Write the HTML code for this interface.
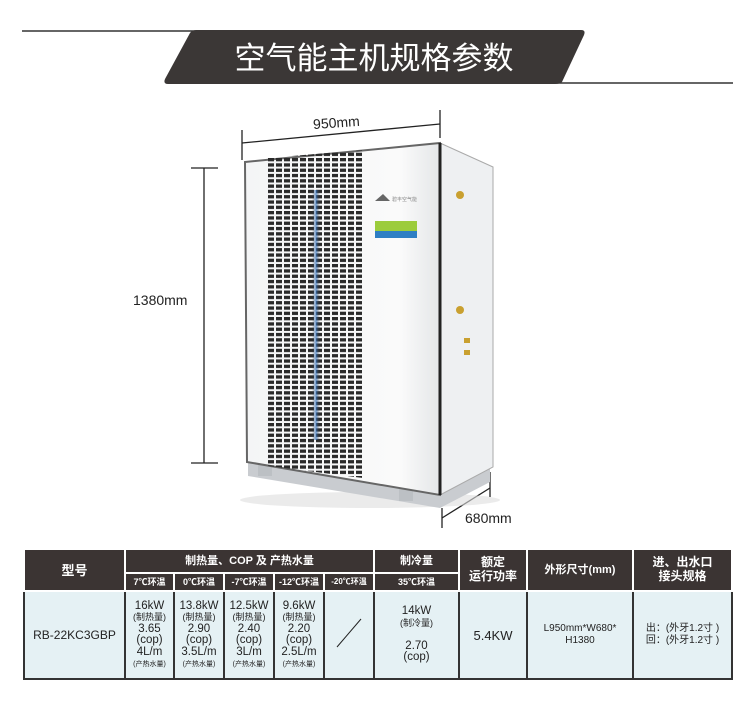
<!DOCTYPE html>
<html><head><meta charset="utf-8"><style>
body{margin:0;background:#fff;width:750px;height:704px;position:relative;overflow:hidden;font-family:"Liberation Sans","Noto Sans CJK SC",sans-serif}
svg{position:absolute;left:0;top:0}
table{position:absolute;left:23px;top:548px;border-collapse:collapse;font-family:"Liberation Sans","Noto Sans CJK SC",sans-serif;table-layout:fixed}
td{border:2px solid #333;padding:0;text-align:center;vertical-align:middle;color:#222;background:#e5f1f4;line-height:1.0}
td.h{background:#3b3433;color:#fff;font-weight:bold;border-color:#fff}
.s{font-size:9px}
</style></head><body>
<svg width="750" height="704" viewBox="0 0 750 704">
<defs>
<pattern id="g" x="268" y="158" width="8" height="5.3" patternUnits="userSpaceOnUse"><rect x="0" y="0" width="6" height="3.3" fill="#2a2a2a"/></pattern>
<linearGradient id="bl" x1="0" x2="1"><stop offset="0" stop-color="#2a2a2a" stop-opacity="0"/><stop offset=".5" stop-color="#3c7fd0"/><stop offset="1" stop-color="#2a2a2a" stop-opacity="0"/></linearGradient>
<linearGradient id="fr" x1="0" x2="1"><stop offset="0" stop-color="#f4f5f6"/><stop offset=".8" stop-color="#fafafa"/><stop offset="1" stop-color="#e4e6e8"/></linearGradient>
</defs>
<line x1="22" y1="31" x2="198" y2="31" stroke="#333" stroke-width="1.5"/>
<line x1="552" y1="83" x2="733" y2="83" stroke="#333" stroke-width="1.5"/>
<path d="M196 30 L581 30 Q586 30 584 35 L562 82 Q560 84 555 84 L168 84 Q163 84 165 79 L190 33 Q192 30 196 30Z" fill="#3b3736"/>
<text x="374" y="69" fill="#fff" font-size="31" text-anchor="middle" font-family="Noto Sans CJK SC,sans-serif">空气能主机规格参数</text>
<line x1="204" y1="168" x2="204" y2="463" stroke="#222" stroke-width="1.3"/>
<line x1="191" y1="168" x2="218" y2="168" stroke="#222" stroke-width="1.3"/>
<line x1="191" y1="463" x2="218" y2="463" stroke="#222" stroke-width="1.3"/>
<text x="133" y="305" font-size="14" fill="#222">1380mm</text>
<line x1="242" y1="143" x2="440" y2="124" stroke="#222" stroke-width="1.3"/>
<line x1="242" y1="130" x2="242" y2="160" stroke="#222" stroke-width="1.3"/>
<line x1="440" y1="110" x2="440" y2="138" stroke="#222" stroke-width="1.3"/>
<text x="313" y="127" font-size="14" fill="#222" transform="rotate(-4 343 122)">950mm</text>
<line x1="442" y1="518" x2="490" y2="488" stroke="#222" stroke-width="1.3"/>
<line x1="442" y1="508" x2="442" y2="528" stroke="#222" stroke-width="1.3"/>
<line x1="490" y1="472" x2="490" y2="497" stroke="#222" stroke-width="1.3"/>
<text x="465" y="523" font-size="14" fill="#222">680mm</text>
<ellipse cx="370" cy="500" rx="130" ry="8" fill="#ddd" opacity=".6"/>
<polygon points="248,462 440,495 490,467 490,482 440,508 248,476" fill="#c9ccd0"/>
<rect x="258" y="462" width="14" height="14" fill="#bcc0c4"/>
<rect x="399" y="487" width="14" height="14" fill="#bcc0c4"/>
<polygon points="440,143 493,167 493,467 440,495" fill="#eef0f2" stroke="#aaa" stroke-width="1"/>
<polygon points="245,162 440,143 440,495 247,462" fill="url(#fr)" stroke="#666" stroke-width="2"/>
<line x1="440" y1="143" x2="440" y2="495" stroke="#222" stroke-width="3"/>
<polygon points="268,158 363,150 363,478 268,466" fill="url(#g)"/>
<rect x="312" y="190" width="8" height="250" fill="url(#bl)" opacity=".7"/>
<polygon points="375,201 383,194 390,201" fill="#666"/>
<text x="392" y="201" font-size="5" fill="#888">碧丰空气能</text>
<rect x="375" y="221" width="42" height="14" fill="#9ccc3c"/>
<rect x="375" y="231" width="42" height="7" fill="#2f7fc4"/>
<circle cx="460" cy="195" r="4" fill="#c9a030"/>
<circle cx="460" cy="310" r="4" fill="#c9a030"/>
<rect x="464" y="338" width="6" height="5" fill="#c9a030"/>
<rect x="464" y="350" width="6" height="5" fill="#c9a030"/>
</svg>
<table>
<colgroup><col style="width:101px"><col style="width:49px"><col style="width:50px"><col style="width:50px"><col style="width:50px"><col style="width:50px"><col style="width:85px"><col style="width:68px"><col style="width:106px"><col style="width:99px"></colgroup>
<tr style="height:24px"><td class="h" rowspan="2" style="font-size:13px">型号</td><td class="h" colspan="5" style="font-size:11px">制热量、COP 及 产热水量</td><td class="h" style="font-size:11px">制冷量</td><td class="h" rowspan="2" style="font-size:12px;line-height:1.15">额定<br>运行功率</td><td class="h" rowspan="2" style="font-size:11px">外形尺寸(mm)</td><td class="h" rowspan="2" style="font-size:12px;line-height:1.15">进、出水口<br>接头规格</td></tr>
<tr style="height:18px"><td class="h s">7℃环温</td><td class="h s">0℃环温</td><td class="h s">-7℃环温</td><td class="h s">-12℃环温</td><td class="h s" style="font-size:8px">-20℃环温</td><td class="h s">35℃环温</td></tr>
<tr style="height:88px"><td style="font-size:12px">RB-22KC3GBP</td>
<td style="font-size:11.5px">16kW<br><span class="s">(制热量)</span><br>3.65<br>(cop)<br>4L/m<br><span style="font-size:7px">(产热水量)</span></td>
<td style="font-size:11.5px">13.8kW<br><span class="s">(制热量)</span><br>2.90<br>(cop)<br>3.5L/m<br><span style="font-size:7px">(产热水量)</span></td>
<td style="font-size:11.5px">12.5kW<br><span class="s">(制热量)</span><br>2.40<br>(cop)<br>3L/m<br><span style="font-size:7px">(产热水量)</span></td>
<td style="font-size:11.5px">9.6kW<br><span class="s">(制热量)</span><br>2.20<br>(cop)<br>2.5L/m<br><span style="font-size:7px">(产热水量)</span></td>
<td><svg width="30" height="34" style="position:static"><line x1="3" y1="31" x2="27" y2="3" stroke="#222" stroke-width="1"/></svg></td>
<td style="font-size:11.5px">14kW<br><span class="s">(制冷量)</span><br><br>2.70<br>(cop)</td>
<td style="font-size:13px">5.4KW</td>
<td style="font-size:10px;line-height:1.2">L950mm*W680*<br>H1380</td>
<td style="font-size:10px;line-height:1.2">出：(外牙1.2寸 )<br>回：(外牙1.2寸 )</td></tr>
</table>
</body></html>
